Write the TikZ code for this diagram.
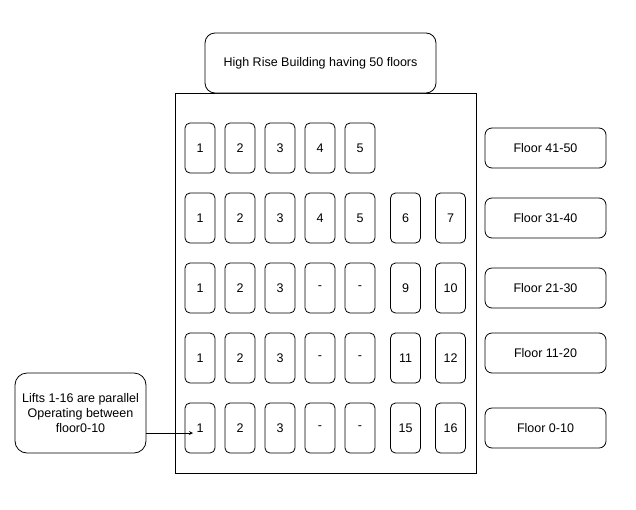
\documentclass[tikz,border=0pt]{standalone}
\usepackage{fontspec}
\setmainfont{Liberation Sans}
\usepackage{tikz}
\usepackage{xcolor}
\usetikzlibrary{positioning, arrows}

\begin{document}
\begin{tikzpicture}[x=1pt, y=-1pt, node distance={40pt}, font=\fontsize{12.5}{15}\selectfont, line width=0.8pt]
	\tikzstyle{lift} = [draw, rectangle, rounded corners=5pt, minimum width=30pt, minimum height=50pt, inner sep=0pt]
	\tikzstyle{floorbox} = [draw, rectangle, rounded corners=7pt, minimum width=121pt, minimum height=40pt, inner sep=0pt]
	\useasboundingbox (0,0) rectangle (636,509);
	% building and title
	\node[draw, rectangle, minimum width=301pt, minimum height=380pt, inner sep=0pt] (bldg) at (325.5,283) {};
	\node[draw, rectangle, rounded corners=10pt, minimum width=231pt, minimum height=60pt, fill=white] (title) at (320.5,63) {High Rise Building having 50 floors};
	% floors 41-50
	\node[lift] (r1c1) at (200,148) {1};
	\node[lift] (r1c2) [right of=r1c1] {2};
	\node[lift] (r1c3) [right of=r1c2] {3};
	\node[lift] (r1c4) [right of=r1c3] {4};
	\node[lift] (r1c5) [right of=r1c4] {5};
	% floors 31-40
	\node[lift] (r2c1) at (200,218) {1};
	\node[lift] (r2c2) [right of=r2c1] {2};
	\node[lift] (r2c3) [right of=r2c2] {3};
	\node[lift] (r2c4) [right of=r2c3] {4};
	\node[lift] (r2c5) [right of=r2c4] {5};
	\node[lift] (r2c6) at (405.5,218) {6};
	\node[lift] (r2c7) at (450.5,218) {7};
	% floors 21-30
	\node[lift] (r3c1) at (200,288) {1};
	\node[lift] (r3c2) [right of=r3c1] {2};
	\node[lift] (r3c3) [right of=r3c2] {3};
	\node[lift] (r3c4) [right of=r3c3] {-};
	\node[lift] (r3c5) [right of=r3c4] {-};
	\node[lift] (r3c6) at (405.5,288) {9};
	\node[lift] (r3c7) at (450.5,288) {10};
	% floors 11-20
	\node[lift] (r4c1) at (200,358) {1};
	\node[lift] (r4c2) [right of=r4c1] {2};
	\node[lift] (r4c3) [right of=r4c2] {3};
	\node[lift] (r4c4) [right of=r4c3] {-};
	\node[lift] (r4c5) [right of=r4c4] {-};
	\node[lift] (r4c6) at (405.5,358) {11};
	\node[lift] (r4c7) at (450.5,358) {12};
	% floors 0-10
	\node[lift] (r5c1) at (200,428) {1};
	\node[lift] (r5c2) [right of=r5c1] {2};
	\node[lift] (r5c3) [right of=r5c2] {3};
	\node[lift] (r5c4) [right of=r5c3] {-};
	\node[lift] (r5c5) [right of=r5c4] {-};
	\node[lift] (r5c6) at (405.5,428) {15};
	\node[lift] (r5c7) at (450.5,428) {16};
	% floor labels
	\node[floorbox] (f5) at (545.5,148) {Floor 41-50};
	\node[floorbox] (f4) at (545.5,218) {Floor 31-40};
	\node[floorbox] (f3) at (545.5,288) {Floor 21-30};
	\node[floorbox] (f2) at (545.5,353) {Floor 11-20};
	\node[floorbox] (f1) at (545.5,428) {Floor 0-10};
	% note
	\node[draw, rectangle, rounded corners=12pt, minimum width=131pt, minimum height=80pt, align=center, inner sep=0pt] (note) at (80.5,413) {Lifts 1-16 are parallel\\Operating between\\floor0-10};
	\coordinate (tip) at (193,433);
	\draw[-stealth] (note.east |- tip) -- (tip);
\end{tikzpicture}
\end{document}
